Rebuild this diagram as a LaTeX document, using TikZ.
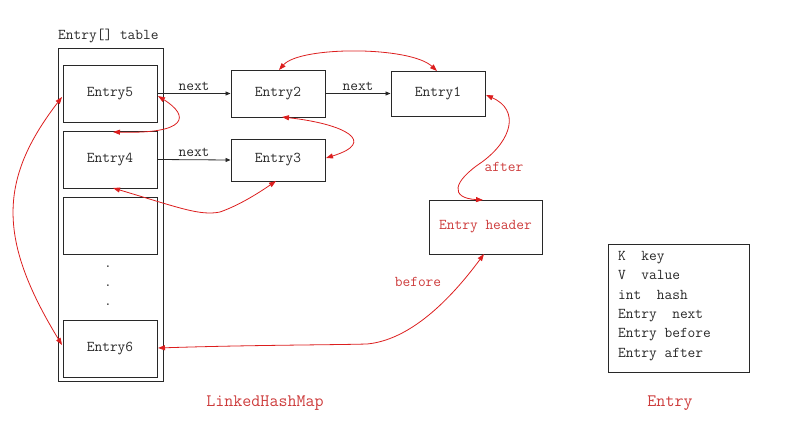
\documentclass[tikz,border=0pt]{standalone}
\usetikzlibrary{arrows.meta}
\definecolor{lred}{RGB}{220,30,30}
\definecolor{tred}{RGB}{205,60,60}
\definecolor{dgray}{RGB}{40,40,40}
\begin{document}
\begin{tikzpicture}[x=1pt,y=-1pt,
  box/.style={draw=dgray,line width=0.9pt,inner sep=0pt},
  txt/.style={font=\ttfamily\fontsize{15}{16}\selectfont,text=dgray},
  rtxt/.style={font=\ttfamily\fontsize{15}{16}\selectfont,text=tred},
  nextarrow/.style={draw=dgray,line width=0.8pt,-{Triangle[length=5pt,width=4pt]}},
  link/.style={draw=lred,line width=0.8pt,{Triangle[length=7pt,width=5pt]}-{Triangle[length=7pt,width=5pt]}}]
\useasboundingbox (0,0) rectangle (789,428);
% table
\node[box,minimum width=105pt,minimum height=333pt] (table) at (110.5,214.5) {};
\node[txt,anchor=south west,inner sep=0pt] (tlabel) at (58,43) {Entry[] table};
\node[box,minimum width=94pt,minimum height=57pt,txt] (e5) at (110,93.5) {Entry5};
\node[box,minimum width=94pt,minimum height=57pt,txt] (e4) at (110,159.5) {Entry4};
\node[box,minimum width=94pt,minimum height=57pt] (eempty) at (110,225.5) {};
\node[box,minimum width=94pt,minimum height=57pt,txt] (e6) at (110,348.5) {Entry6};
\node[txt] (d1) at (108,267) {.};
\node[txt] (d2) at (108,286) {.};
\node[txt] (d3) at (108,305) {.};
% chain
\node[box,minimum width=94pt,minimum height=47pt,txt] (e2) at (278,93.5) {Entry2};
\node[box,minimum width=94pt,minimum height=42pt,txt] (e3) at (278,160) {Entry3};
\node[box,minimum width=94pt,minimum height=45pt,txt] (e1) at (438,93.5) {Entry1};
\node[box,minimum width=113pt,minimum height=54pt,rtxt] (hd) at (485.5,227) {Entry header};
% next arrows
\draw[nextarrow] (e5.east) -- node[txt,above,inner sep=3pt] {next} (e2.west);
\draw[nextarrow] (e2.east) -- node[txt,above,inner sep=3pt] {next} (e1.west);
\draw[nextarrow] (e4.east) -- node[txt,above,inner sep=3pt] {next} (e3.west);
% red links
\coordinate (p2t) at (279,70);
\coordinate (p1t) at (437,71);
\draw[link] (p2t) .. controls (300,46) and (410,46) .. (p1t);
\coordinate (p5r) at (158,96);
\coordinate (p4t) at (113,132);
\draw[link] (p5r) .. controls (190,116) and (188,134) .. (p4t);
\coordinate (p2b) at (282,117);
\coordinate (p3r) at (326,158);
\draw[link] (p2b) .. controls (345,124) and (378,142) .. (p3r);
\coordinate (p4b) at (113,188);
\coordinate (p3b) at (276,181);
\draw[link] (p4b) .. controls (180,208) and (200,216) .. (220,212) .. controls (240,205) and (260,192) .. (p3b);
\coordinate (p5l) at (62,97);
\coordinate (p6l) at (62,345);
\draw[link] (p5l) .. controls (-2,180) and (-2,240) .. (p6l);
\coordinate (p1r) at (486,95);
\coordinate (pht) at (483,200);
\draw[link] (p1r) .. controls (520,110) and (512,140) .. (482,162) .. controls (452,182) and (450,198) .. (pht);
\coordinate (p6r) at (158,348);
\coordinate (phb) at (484,254);
\draw[link] (p6r) .. controls (250,345) and (330,345) .. (367,344) .. controls (410,340) and (450,300) .. (phb);
\node[rtxt] (after) at (504,167) {after};
\node[rtxt] (before) at (418,282) {before};
% Entry class box
\node[box,minimum width=141pt,minimum height=128pt] (cls) at (678.5,308) {};
\node[txt,anchor=north west,align=left,inner sep=0pt,font=\ttfamily\fontsize{15}{19.4}\selectfont] (fields) at (618,251) {K\ \ key\\V\ \ value\\int\ \ hash\\Entry\ \ next\\Entry before\\Entry after};
\node[rtxt,font=\ttfamily\fontsize{17.5}{19}\selectfont] (lhm) at (265,403) {LinkedHashMap};
\node[rtxt,font=\ttfamily\fontsize{17.5}{19}\selectfont] (ent) at (670,403) {Entry};
\end{tikzpicture}
\end{document}
